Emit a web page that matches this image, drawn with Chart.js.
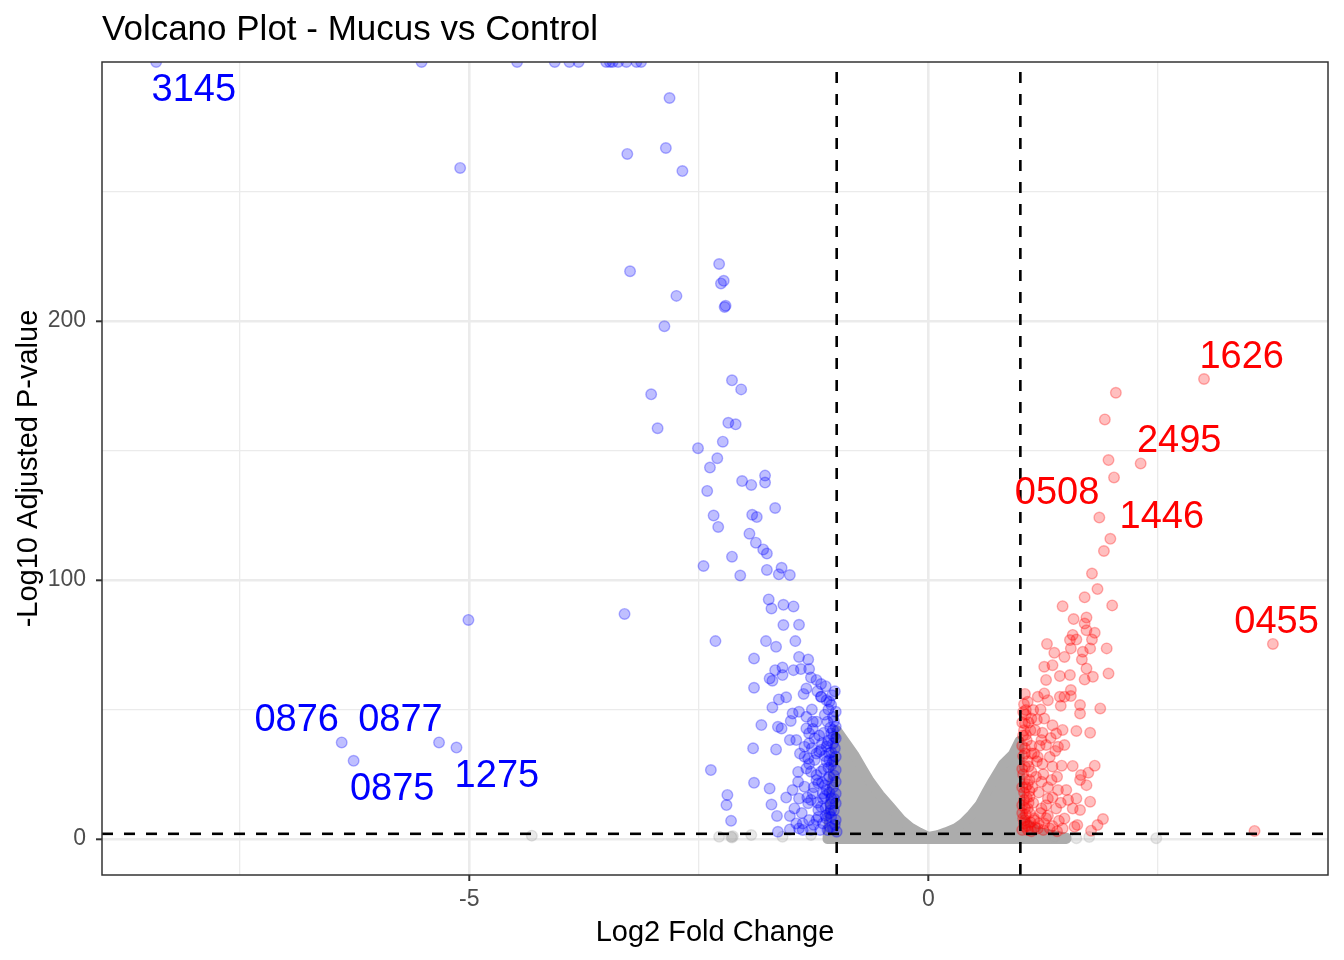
<!DOCTYPE html>
<html>
<head>
<meta charset="utf-8">
<title>Volcano Plot - Mucus vs Control</title>
<script src="https://cdn.jsdelivr.net/npm/chart.js@4/dist/chart.umd.min.js"></script>
<style>
  html, body { margin:0; padding:0; background:#fff; }
  canvas { display:block; }
</style>
</head>
<body>
<canvas id="volcano" width="1344" height="960"></canvas>
<script>
// axis limits and breaks
const xLimits = [-9.0, 4.35];
const yLimits = [-13.9, 300];
const xBreaks = [-7.5, -5, -2.5, 0, 2.5];
const xLabelled = [-5, 0];
const yBreaks = [0, 50, 100, 150, 200, 250];
const yLabelled = [0, 100, 200];
const lfcCutoff = [-1, 1];
const padjCutoff = 2;

// [log2FC, -log10 padj]; values above 300 sit on the top limit
const downRegulated = [
  [-8.41,300],[-5.52,300],[-4.48,300],[-4.07,300],[-3.91,300],[-3.81,300],[-3.51,300],[-3.47,300],[-3.44,300],[-3.38,300],[-3.29,300],[-3.18,300],[-3.13,300],
  [-2.82,286.1],[-2.86,266.8],[-3.28,264.5],[-5.10,259.1],[-2.68,257.9],
  [-2.28,222],[-3.25,219.2],[-2.23,215.5],[-2.26,214.5],[-2.745,209.7],[-2.21,205.9],[-2.22,205.4],[-2.876,198],
  [-2.14,177.1],[-2.04,173.6],[-3.02,171.7],[-2.18,160.7],[-2.10,160.1],[-2.95,158.6],[-2.24,153.4],[-2.51,150.9],[-2.30,147],[-2.38,143.4],
  [-1.78,140.3],[-2.03,138.2],[-1.78,137.6],[-1.93,136.7],[-2.41,134.4],[-1.67,127.8],[-1.92,125.2],[-2.34,124.9],[-1.87,124.3],[-2.29,120.5],
  [-1.95,117.9],[-1.88,114.4],[-1.80,111.8],[-1.76,110.2],[-2.14,109],[-2.45,105.4],[-1.60,104.7],[-1.76,103.9],[-1.63,102.2],[-1.51,101.9],[-2.05,101.7],
  [-1.74,92.5],[-1.58,90.4],[-1.47,89.8],[-1.71,89],[-3.31,86.9],[-5.01,84.6],[-1.41,82.7],[-1.58,82.6],[-2.32,76.4],[-1.77,76.4],[-1.45,76.4],
  [-1.66,74.2],[-1.41,70.3],[-1.90,69.7],[-1.31,69.3],[-1.59,66.2],[-1.39,65.6],[-1.30,65.6],[-1.67,65.2],[-1.47,65.2],[-1.59,63.3],[-1.28,62.4],
  [-1.73,62],[-1.22,61.4],[-1.70,61.1],[-1.17,59.8],[-1.90,58.4],[-1.33,58.1],[-1.36,56],[-1.17,54.9],[-1.55,54.7],[-1.63,53.9],[-1.08,53],
  [-1.70,50.8],[-1.41,49.1],[-1.48,48.5],[-1.50,45.6],[-1.22,45.3],[-1.82,44],[-1.64,43.3],[-1.33,42.7],[-1.60,42.7],[-1.04,42.1],[-1.51,38.2],
  [-1.44,38.2],[-6.39,37.3],[-5.33,37.3],[-1.10,36.9],[-1.35,35.6],[-5.14,35.3],[-1.91,35],[-1.66,34.6],[-1.19,33.7],[-1.31,31.1],[-1.08,30.5],
  [-6.26,30.2],[-1.33,27.2],[-2.37,26.6],[-1.42,25.9],[-1.22,22.8],[-1.42,22.1],[-1.90,21.7],[-1.13,20.8],[-1.73,19.5],[-1.48,18.9],[-2.19,17],
  [-1.55,16],[-1.41,15.6],[-1.15,15.6],[-1.28,15.1],[-1.71,13.3],[-2.20,13.1],[-1.46,11.8],[-1.06,11.2],[-1.65,8.9],[-1.51,8.9],[-1.11,7.9],
  [-1.22,7.3],[-2.15,7],[-1.37,6],[-1.04,4.1],[-1.41,4.1],[-1.51,3.7],[-1.28,3.5],[-1.64,2.8],
  [-1.17,54.9],[-1.11,53.6],[-1.06,51.7],[-1.01,49.1],[-1.04,47.2],[-1.10,45.3],[-1.01,43.3],[-1.06,40.8],[-1.01,38.9],[-1.04,36.9],[-1.11,35.7],
  [-1.17,34.4],[-1.08,33.1],[-1.01,31.8],[-1.11,29.9],[-1.06,28.6],[-1.01,26.6],[-1.17,26],[-1.22,24.7],[-1.08,24.1],[-1.01,22.1],[-1.20,21.5],
  [-1.11,18.9],[-1.01,17.6],[-1.15,17.6],[-1.06,15.7],[-1.01,13.8],[-1.17,12.5],[-1.08,9.9],[-1.01,7.3],[-1.15,6],[-1.33,47.2],[-1.26,45.3],
  [-1.30,40.8],[-1.24,38.9],[-1.35,31.8],[-1.24,30.5],[-1.28,26],[-1.35,20.2],[-1.26,17.6],[-1.31,13.8],[-1.20,11.2],[-1.30,7.3],[-1.44,6],
  [-1.37,3.5],[-1.10,3.5],[-1.0,2.8],
  [-1.02,57],[-1.05,55.5],[-1.09,50],[-1.13,48],[-1.03,45.5],[-1.07,43],[-1.14,41],[-1.03,39.5],[-1.09,38],[-1.16,37],[-1.02,35],[-1.06,33.5],
  [-1.13,32],[-1.04,30],[-1.09,27.5],[-1.14,27],[-1.03,24.5],[-1.10,23],[-1.16,21.8],[-1.04,20],[-1.08,18],[-1.13,16.5],[-1.03,15.5],[-1.07,13.5],
  [-1.12,12],[-1.03,11],[-1.06,8.5],[-1.12,9],[-1.02,5.5],[-1.07,4.5],[-1.18,3.5],[-1.25,5.5],[-1.21,14],[-1.19,40],[-1.27,35],[-1.22,33],
  [-1.30,29],[-1.25,20],[-1.32,16],[-1.38,10],[-1.20,8.5],[-1.27,50],[-1.21,57],[-1.12,59],[-1.26,42.5],[-1.30,37],[-1.40,33]
];

const upRegulated = [
  [3.00,177.6],[2.04,172.3],[1.92,162],[1.96,146.3],[2.31,145],[2.02,139.6],[1.86,124.1],[1.98,115.9],[1.91,111.2],[1.78,102.5],[1.84,96.5],
  [1.70,93.3],[2.00,90.2],[1.46,89.9],[1.72,85.5],[1.58,84.9],[1.70,83.2],[1.72,80.6],[1.81,79.6],[1.57,78.8],[1.61,77],[1.78,77],[1.54,76.8],
  [1.29,75.3],[3.75,75.3],[1.55,73.6],[1.76,73.6],[1.94,73.6],[1.68,72.3],[1.37,71.9],[1.48,70.3],[1.67,69.3],[1.35,67.1],[1.26,66.5],[1.72,65.8],
  [1.96,63.9],[1.54,63.3],[1.43,62.9],[1.79,62.6],[1.70,61.6],[1.28,61.4],[1.55,57.5],[1.26,56.2],[1.55,55.2],[1.19,54.9],[1.43,54.9],[1.48,54.9],
  [1.30,53.6],[1.65,51.7],[1.44,51.4],[1.87,50.4],[1.06,49.8],[1.14,49.8],[1.65,48.5],[1.12,46.5],[1.26,46.5],[1.05,44.6],[1.35,43.9],[1.46,42.1],
  [1.61,41.7],[1.76,41],[1.39,40.7],[1.06,40.2],[1.23,38.2],[1.28,36.3],[1.48,36.3],[1.41,35.6],[1.12,33],[1.19,31.7],[1.32,31.7],[1.45,28.3],
  [1.81,28.3],[1.57,28.2],[1.05,27.9],[1.74,25.6],[1.66,24.7],[1.10,22.8],[1.34,22.8],[1.65,22.8],[1.23,22.1],[1.72,20.8],[1.41,18.9],[1.50,18.9],
  [1.10,16.3],[1.30,15.6],[1.61,15.6],[1.52,15.1],[1.76,14.4],[1.08,11.8],[1.23,11.8],[1.39,11.8],[1.57,11.8],[1.65,11.2],[1.48,7.9],[1.90,7.7],
  [1.05,7.3],[1.15,7.3],[1.26,6],[1.84,5.4],[1.05,4.7],[1.59,4.7],[1.62,5.4],[1.19,4.1],[1.32,4.1],[1.46,4.1],[1.77,3.2],[3.55,3.1],
  [1.03,40],[1.05,35],[1.08,30],[1.03,25],[1.06,20],[1.04,15],[1.10,10],[1.08,5],[1.15,8],[1.12,26],[1.16,42],[1.20,18],[1.04,52],[1.09,45],
  [1.14,14],[1.02,10],[1.18,30],[1.22,10],[1.03,32],[1.06,48],[1.12,36],[1.25,25],[1.02,3.5],[1.12,3],[1.30,9],[1.35,28],[1.40,24],[1.05,56],[1.22,50],
  [1.02,45],[1.04,42],[1.07,38],[1.02,36],[1.05,33],[1.09,28],[1.02,27],[1.05,23],[1.08,21],[1.02,20],[1.04,18],[1.07,16],[1.02,13],[1.05,12],
  [1.09,14],[1.03,8],[1.06,9.5],[1.11,6.5],[1.04,6],[1.08,3.5],[1.16,4.5],[1.20,6],[1.25,3.5],[1.28,8],[1.35,5],[1.40,3],[1.42,7],[1.13,20],
  [1.17,24],[1.15,33],[1.21,36],[1.11,42],[1.03,49],[1.08,53],[1.18,46],[1.24,41],[1.30,20],[1.35,16],[1.28,13],[1.44,14],[1.38,34],[1.33,39],
  [1.10,18.5],[1.24,29]
];

// scattered non-significant genes away from the main cloud
const notSignificant = [
  [-4.32,1.3],[-2.28,0.9],[-2.15,0.9],[-2.14,0.6],[-2.13,1.1],[-1.93,1.5],[-1.59,0.9],[-1.28,1.5],[1.37,0.9],[1.61,0.3],[1.75,0.8],[2.48,0.3]
];
// outline (point centres) of the dense grey cloud between the cut-offs
const cloudOutline = [
  [-1.1,0],[-1.0,42],[-0.9,37],[-0.81,32.5],[-0.72,27],[-0.64,22.3],[-0.53,17],[-0.42,12.5],[-0.3,7.5],[-0.2,4.5],[-0.1,2.5],[0,0.8],
  [0.1,1.5],[0.19,2.6],[0.3,4.2],[0.37,5.9],[0.47,9.5],[0.56,13.4],[0.63,18],[0.70,22.4],[0.81,28.8],[0.92,32.7],[0.99,37.8],
  [1.0,8],[1.2,2.5],[1.5,0.5],[1.5,0],[-1.1,0]
];

const geneLabels = ['3145','0876','0877','0875','1275','1626','2495','0508','1446','0455'];
const labelX = [-8.0,-6.88,-5.75,-5.84,-4.70,3.41,2.73,1.40,2.54,3.79];
const labelY = [290,46.9,46.9,19.9,25.1,186.9,154.4,134.2,125.1,84.6];
const labelUp = [false,false,false,false,false,true,true,true,true,true];

const FONT = '"Liberation Sans", Arial, Helvetica, sans-serif';
Chart.defaults.font.family = FONT;

const toXY = arr => arr.map(p => ({x: p[0], y: p[1]}));
const pts = (data, rgb, order) => ({
  type: 'scatter', data: toXY(data), order,
  backgroundColor: 'rgba(' + rgb + ',0.25)', borderColor: 'rgba(' + rgb + ',0.3)',
  borderWidth: 1.4, pointRadius: 5.3, pointHoverRadius: 5.3, clip: 0
});
const dashed = (data) => ({
  type: 'line', data: toXY(data), order: 0, borderColor: '#000', borderWidth: 2.6,
  borderDash: [11, 11], pointRadius: 0, fill: false, clip: 0
});

// gene labels and the panel border, on top of the points
const panelBorder = {
  id: 'panelBorder',
  afterDatasetsDraw(chart) {
    const {ctx, chartArea: a, scales} = chart;
    ctx.save();
    ctx.font = '38px ' + FONT;
    ctx.textAlign = 'center';
    ctx.textBaseline = 'middle';
    geneLabels.forEach((t, i) => {
      ctx.fillStyle = labelUp[i] ? '#ff0000' : '#0000ff';
      ctx.fillText(t, scales.x.getPixelForValue(labelX[i]), scales.y.getPixelForValue(labelY[i]) + 2.5);
    });
    ctx.strokeStyle = '#333333';
    ctx.lineWidth = 1.5;
    ctx.strokeRect(a.left, a.top, a.right - a.left, a.bottom - a.top);
    ctx.restore();
  }
};

const gridOpts = (major) => ({
  color: '#ebebeb',
  lineWidth: c => major.includes(c.tick.value) ? 2.6 : 1.3,
  tickColor: c => major.includes(c.tick.value) ? '#333333' : 'rgba(0,0,0,0)',
  tickLength: 6, tickWidth: 2, drawTicks: true
});

new Chart(document.getElementById('volcano'), {
  type: 'scatter',
  data: {
    datasets: [
      dashed([[lfcCutoff[0], yLimits[0]], [lfcCutoff[0], yLimits[1]]]),
      dashed([[lfcCutoff[1], yLimits[0]], [lfcCutoff[1], yLimits[1]]]),
      dashed([[xLimits[0], padjCutoff], [xLimits[1], padjCutoff]]),
      pts(upRegulated, '255,0,0', 1),
      pts(downRegulated, '0,0,255', 2),
      pts(notSignificant, '169,169,169', 3),
      { type: 'line', data: toXY(cloudOutline), order: 4, fill: 'shape',
        backgroundColor: 'rgb(172,172,172)', borderColor: 'rgb(172,172,172)', borderWidth: 10,
        borderJoinStyle: 'round', borderCapStyle: 'round', tension: 0, pointRadius: 0, clip: 0 }
    ]
  },
  options: {
    responsive: false, animation: false, devicePixelRatio: 1,
    layout: { padding: { left: 0, right: 16, top: 0, bottom: 0 } },
    plugins: {
      legend: { display: false }, tooltip: { enabled: false },
      title: { display: true, text: 'Volcano Plot - Mucus vs Control', align: 'start', fullSize: false,
        color: '#000', font: { size: 35, weight: 'normal' }, padding: { top: 9, bottom: 11 } }
    },
    scales: {
      x: {
        type: 'linear', min: xLimits[0], max: xLimits[1],
        afterBuildTicks: s => { s.ticks = xBreaks.map(v => ({value: v})); },
        afterFit: s => { s.height = 85; },
        ticks: { autoSkip: false, maxRotation: 0, padding: 4.5, color: '#4d4d4d', font: { size: 23 },
          callback: v => xLabelled.includes(v) ? String(v) : '' },
        grid: gridOpts(xLabelled), border: { display: false },
        title: { display: true, text: 'Log2 Fold Change', color: '#000', font: { size: 29 }, padding: { top: 0, bottom: 9.5 } }
      },
      y: {
        type: 'linear', min: yLimits[0], max: yLimits[1],
        afterBuildTicks: s => { s.ticks = yBreaks.map(v => ({value: v})); },
        afterFit: s => { s.width = 102; },
        ticks: { autoSkip: false, padding: 10, color: '#4d4d4d', font: { size: 23 },
          callback: v => yLabelled.includes(v) ? String(v) : '' },
        grid: gridOpts(yLabelled), border: { display: false },
        title: { display: true, text: '-Log10 Adjusted P-value', color: '#000', font: { size: 29 }, padding: { top: 12, bottom: 0 } }
      }
    }
  },
  plugins: [panelBorder]
});
</script>
</body>
</html>
